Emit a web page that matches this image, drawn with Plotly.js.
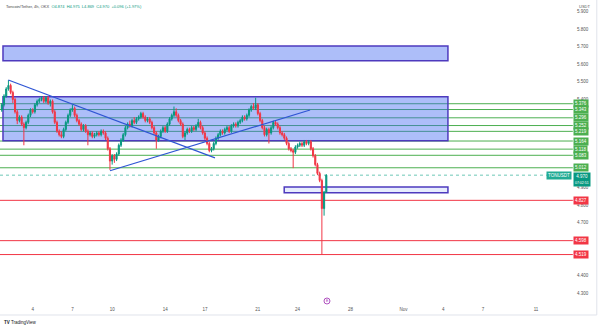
<!DOCTYPE html>
<html><head><meta charset="utf-8">
<script src="https://cdn.plot.ly/plotly-3.0.1.min.js"></script>
<style>html,body{margin:0;padding:0;background:#fff}#c{width:600px;height:328px}</style>
</head><body><div id="c"></div>
<script>
// ---- data (4h candles, TON/USDT, OKX) ----
const startTime = '2024-10-01T16:00:00Z';
const open = [5.34,5.37,5.42,5.46,5.48,5.44,5.40,5.33,5.28,5.30,
5.26,5.24,5.27,5.31,5.34,5.33,5.37,5.39,5.40,5.41,
5.39,5.41,5.38,5.39,5.33,5.27,5.22,5.20,5.19,5.23,
5.27,5.31,5.34,5.35,5.31,5.28,5.26,5.23,5.25,5.22,
5.20,5.21,5.19,5.20,5.21,5.20,5.22,5.21,5.18,5.12,
5.05,5.08,5.06,5.09,5.14,5.17,5.20,5.24,5.26,5.25,
5.28,5.27,5.29,5.30,5.32,5.30,5.28,5.29,5.27,5.24,
5.21,5.17,5.19,5.22,5.24,5.22,5.26,5.29,5.31,5.33,
5.31,5.28,5.26,5.19,5.21,5.23,5.22,5.24,5.23,5.25,
5.27,5.24,5.21,5.18,5.15,5.11,5.12,5.15,5.18,5.20,
5.22,5.21,5.23,5.24,5.22,5.25,5.26,5.25,5.27,5.28,
5.30,5.29,5.31,5.34,5.36,5.35,5.37,5.32,5.28,5.24,
5.20,5.23,5.21,5.24,5.27,5.26,5.24,5.21,5.20,5.18,
5.15,5.12,5.11,5.10,5.13,5.14,5.15,5.14,5.16,5.15,
5.16,5.12,5.08,5.03,4.98,4.94,4.78,4.874];
const high = [5.38,5.43,5.47,5.51,5.49,5.45,5.41,5.34,5.31,5.31,
5.27,5.28,5.32,5.35,5.35,5.38,5.40,5.41,5.42,5.42,
5.42,5.42,5.40,5.40,5.34,5.28,5.23,5.22,5.24,5.28,
5.32,5.35,5.37,5.36,5.32,5.29,5.27,5.26,5.26,5.23,
5.22,5.22,5.21,5.22,5.22,5.23,5.23,5.22,5.19,5.13,
5.09,5.09,5.10,5.15,5.18,5.21,5.25,5.27,5.28,5.29,
5.30,5.30,5.31,5.33,5.33,5.31,5.30,5.30,5.28,5.25,
5.22,5.20,5.23,5.25,5.25,5.27,5.30,5.32,5.36,5.35,
5.32,5.29,5.27,5.22,5.24,5.24,5.25,5.25,5.26,5.29,
5.28,5.25,5.22,5.19,5.16,5.13,5.16,5.19,5.21,5.23,
5.23,5.24,5.25,5.25,5.26,5.27,5.27,5.28,5.29,5.31,
5.31,5.32,5.35,5.37,5.38,5.41,5.38,5.33,5.29,5.25,
5.24,5.24,5.25,5.28,5.28,5.27,5.25,5.22,5.21,5.19,
5.16,5.13,5.12,5.14,5.15,5.16,5.16,5.17,5.17,5.17,
5.17,5.13,5.09,5.04,4.99,4.95,4.88,4.975];
const low = [5.33,5.36,5.41,5.45,5.43,5.38,5.32,5.26,5.27,5.25,
5.14,5.23,5.26,5.30,5.32,5.32,5.36,5.38,5.39,5.38,
5.38,5.37,5.36,5.32,5.26,5.21,5.19,5.18,5.18,5.22,
5.26,5.30,5.33,5.30,5.27,5.25,5.22,5.22,5.21,5.14,
5.19,5.18,5.18,5.19,5.19,5.19,5.20,5.17,5.11,5.00,
5.03,5.04,5.05,5.08,5.13,5.16,5.19,5.23,5.24,5.24,
5.26,5.26,5.28,5.29,5.29,5.27,5.27,5.26,5.23,5.20,
5.12,5.16,5.18,5.21,5.21,5.21,5.25,5.28,5.30,5.30,
5.27,5.25,5.18,5.17,5.20,5.21,5.21,5.22,5.22,5.24,
5.23,5.20,5.17,5.14,5.10,5.10,5.11,5.14,5.17,5.19,
5.20,5.20,5.22,5.21,5.21,5.24,5.24,5.24,5.26,5.27,
5.28,5.28,5.30,5.33,5.34,5.34,5.31,5.27,5.23,5.19,
5.19,5.15,5.20,5.23,5.25,5.23,5.20,5.19,5.17,5.14,
5.11,5.10,5.01,5.09,5.12,5.13,5.13,5.13,5.14,5.14,
5.11,5.07,5.02,4.97,4.93,4.519,4.74,4.869];
const close = [5.37,5.42,5.46,5.48,5.44,5.40,5.33,5.28,5.30,5.26,
5.24,5.27,5.31,5.34,5.33,5.37,5.39,5.40,5.41,5.39,
5.41,5.38,5.39,5.33,5.27,5.22,5.20,5.19,5.23,5.27,
5.31,5.34,5.35,5.31,5.28,5.26,5.23,5.25,5.22,5.20,
5.21,5.19,5.20,5.21,5.20,5.22,5.21,5.18,5.12,5.05,
5.08,5.06,5.09,5.14,5.17,5.20,5.24,5.26,5.25,5.28,
5.27,5.29,5.30,5.32,5.30,5.28,5.29,5.27,5.24,5.21,
5.17,5.19,5.22,5.24,5.22,5.26,5.29,5.31,5.33,5.31,
5.28,5.26,5.19,5.21,5.23,5.22,5.24,5.23,5.25,5.27,
5.24,5.21,5.18,5.15,5.11,5.12,5.15,5.18,5.20,5.22,
5.21,5.23,5.24,5.22,5.25,5.26,5.25,5.27,5.28,5.30,
5.29,5.31,5.34,5.36,5.35,5.37,5.32,5.28,5.24,5.20,
5.23,5.21,5.24,5.27,5.26,5.24,5.21,5.20,5.18,5.15,
5.12,5.11,5.10,5.13,5.14,5.15,5.14,5.16,5.15,5.16,
5.12,5.08,5.03,4.98,4.94,4.78,4.874,4.970];

// support / resistance levels
const greenLevels = [5.376,5.343,5.296,5.252,5.219,5.164,5.118,5.083,5.012];
const redLevels = [4.827,4.598,4.519];
const lastPrice = 4.970;
const countdown = '07:02:51';

// drawn zones [x0, x1, yLow, yHigh]
const zoneTop   = ['2024-10-01 18:10','2024-11-04 08:25',5.620,5.704];
const zoneMain  = ['2024-10-01 18:10','2024-11-04 08:25',5.166,5.416];
const zoneSmall = ['2024-10-22 23:45','2024-11-04 08:25',4.870,4.903];
// trend lines [x0, y0, x1, y1]
const trendDown = ['2024-10-02 03:50',5.511,'2024-10-17 18:20',5.068];
const trendUp   = ['2024-10-09 20:00',4.995,'2024-10-24 22:35',5.340];

// axis ticks (price ticks hidden behind level labels are left out)
const xTickVals = ['2024-10-04','2024-10-07','2024-10-10','2024-10-14','2024-10-17','2024-10-21','2024-10-24','2024-10-28','2024-11-01','2024-11-04','2024-11-07','2024-11-11'];
const xTickText = ['4','7','10','14','17','21','24','28','Nov','4','7','11'];
const yTickVals = [4.3,4.4,4.7,4.8,4.9,5.4,5.5,5.6,5.7,5.8,5.9];
const yTickText = ['4.300','4.400','4.700','4.800','4.900','5.400','5.500','5.600','5.700','5.800','5.900'];

// ---- build ----
const t0 = Date.parse(startTime);
const times = close.map((_, i) => {
  const d = new Date(t0 + i * 4 * 3600 * 1000);
  return d.toISOString().slice(0,16).replace('T',' ');
});

const UP = '#089981', DN = '#F23645', GREEN = '#4CAF50';
const FONT = 'Liberation Sans, Arial, sans-serif';

const trace = {
  type:'candlestick', x:times, open:open, high:high, low:low, close:close,
  increasing:{line:{color:UP,width:1},fillcolor:UP},
  decreasing:{line:{color:DN,width:1},fillcolor:DN},
  whiskerwidth:0, hoverinfo:'skip'
};

const shapes = [];
const annotations = [];
greenLevels.forEach(v => {
  shapes.push({type:'line',xref:'paper',x0:0,x1:1.005,yref:'y',y0:v,y1:v,line:{color:GREEN,width:1},layer:'below'});
  annotations.push({xref:'paper',x:1,xanchor:'left',xshift:3,yref:'y',y:v,yanchor:'middle',text:v.toFixed(3),showarrow:false,
    bgcolor:GREEN,font:{size:4.5,color:'#fff',family:FONT},borderpad:1});
});
redLevels.forEach(v => {
  shapes.push({type:'line',xref:'paper',x0:0,x1:1.005,yref:'y',y0:v,y1:v,line:{color:DN,width:1},layer:'below'});
  annotations.push({xref:'paper',x:1,xanchor:'left',xshift:3,yref:'y',y:v,yanchor:'middle',text:v.toFixed(3),showarrow:false,
    bgcolor:DN,font:{size:4.5,color:'#fff',family:FONT},borderpad:1});
});
// zones
[[zoneTop,0.42],[zoneMain,0.42],[zoneSmall,0.12]].forEach(([z,a]) => {
  shapes.push({type:'rect',xref:'x',yref:'y',x0:z[0],x1:z[1],y0:z[2],y1:z[3],
    fillcolor:'rgba(60,100,240,'+a+')',line:{color:'rgb(78,58,190)',width:1.5},layer:'below'});
});
// trend lines
[trendDown,trendUp].forEach(l => {
  shapes.push({type:'line',xref:'x',yref:'y',x0:l[0],y0:l[1],x1:l[2],y1:l[3],line:{color:'#2f55d4',width:1.2},layer:'above'});
});
// last price line
shapes.push({type:'line',xref:'paper',x0:0,x1:1,yref:'y',y0:lastPrice,y1:lastPrice,line:{color:'#6cc7b7',width:1,dash:'dot'},layer:'below'});
// frame lines
shapes.push({type:'line',xref:'paper',yref:'paper',x0:0,x1:1.047,y0:-0.043,y1:-0.043,line:{color:'#e0e3eb',width:1}});
shapes.push({type:'line',xref:'paper',yref:'paper',x0:1.047,x1:1.047,y0:-0.043,y1:1,line:{color:'#e0e3eb',width:1}});
// event marker on time scale
shapes.push({type:'circle',xref:'paper',yref:'paper',x0:0.5684,x1:0.5789,y0:-0.0066,y1:0.0132,line:{color:'#9c27b0',width:0.8},fillcolor:'#fff'});

annotations.push({xref:'paper',x:1,xanchor:'left',xshift:3,yref:'y',y:lastPrice,yanchor:'top',yshift:3.5,
  text:lastPrice.toFixed(3)+'<br><span style="font-size:3.5px">'+countdown+'</span>',showarrow:false,
  bgcolor:UP,font:{size:4.5,color:'#fff',family:FONT},borderpad:1,align:'center'});
annotations.push({xref:'paper',x:1,xanchor:'right',xshift:2,yref:'y',y:lastPrice,yanchor:'middle',text:'TONUSDT',showarrow:false,
  bgcolor:'#22ab94',font:{size:4.5,color:'#fff',family:FONT},borderpad:1});
annotations.push({xref:'paper',x:1,xanchor:'left',xshift:7,yref:'paper',y:1,yanchor:'top',yshift:-2,text:'USDT',showarrow:false,
  font:{size:4,color:'#555',family:FONT}});
annotations.push({xref:'paper',x:0,xanchor:'left',xshift:4,yref:'paper',y:1,yanchor:'top',yshift:-2,showarrow:false,
  text:'<span style="color:#444">Toncoin/Tether, 4h, OKX</span>  <span style="color:#089981">O4.874  H4.975  L4.869  C4.970  +0.096 (+1.97%)</span>',
  font:{size:4,family:FONT}});
annotations.push({xref:'paper',x:0,xanchor:'left',xshift:2,yref:'paper',y:0,yanchor:'middle',yshift:-20,showarrow:false,
  text:'<b>TV</b> TradingView',font:{size:4.5,color:'#131722',family:FONT}});
annotations.push({xref:'paper',x:0.5737,xanchor:'center',yref:'paper',y:0.0033,yanchor:'middle',showarrow:false,
  text:'E',font:{size:3.5,color:'#9c27b0',family:FONT}});

const layout = {
  width:600,height:328,
  margin:{l:0,r:30,t:0,b:26,pad:0},
  paper_bgcolor:'#fff',plot_bgcolor:'#fff',
  showlegend:false,
  xaxis:{type:'date',range:['2024-10-01 12:45','2024-11-13 13:36'],rangeslider:{visible:false},
    showgrid:false,zeroline:false,showline:false,ticks:'',tickmode:'array',tickvals:xTickVals,ticktext:xTickText,
    tickfont:{size:4.5,color:'#555',family:FONT},ticklabelstandoff:3,fixedrange:true},
  yaxis:{side:'right',range:[4.2494,5.9653],showgrid:false,zeroline:false,showline:false,ticks:'',
    tickmode:'array',tickvals:yTickVals,ticktext:yTickText,
    tickfont:{size:4.5,color:'#555',family:FONT},ticklabelstandoff:6,fixedrange:true},
  shapes:shapes,annotations:annotations
};
Plotly.newPlot('c',[trace],layout,{staticPlot:true,displayModeBar:false});
</script></body></html>
